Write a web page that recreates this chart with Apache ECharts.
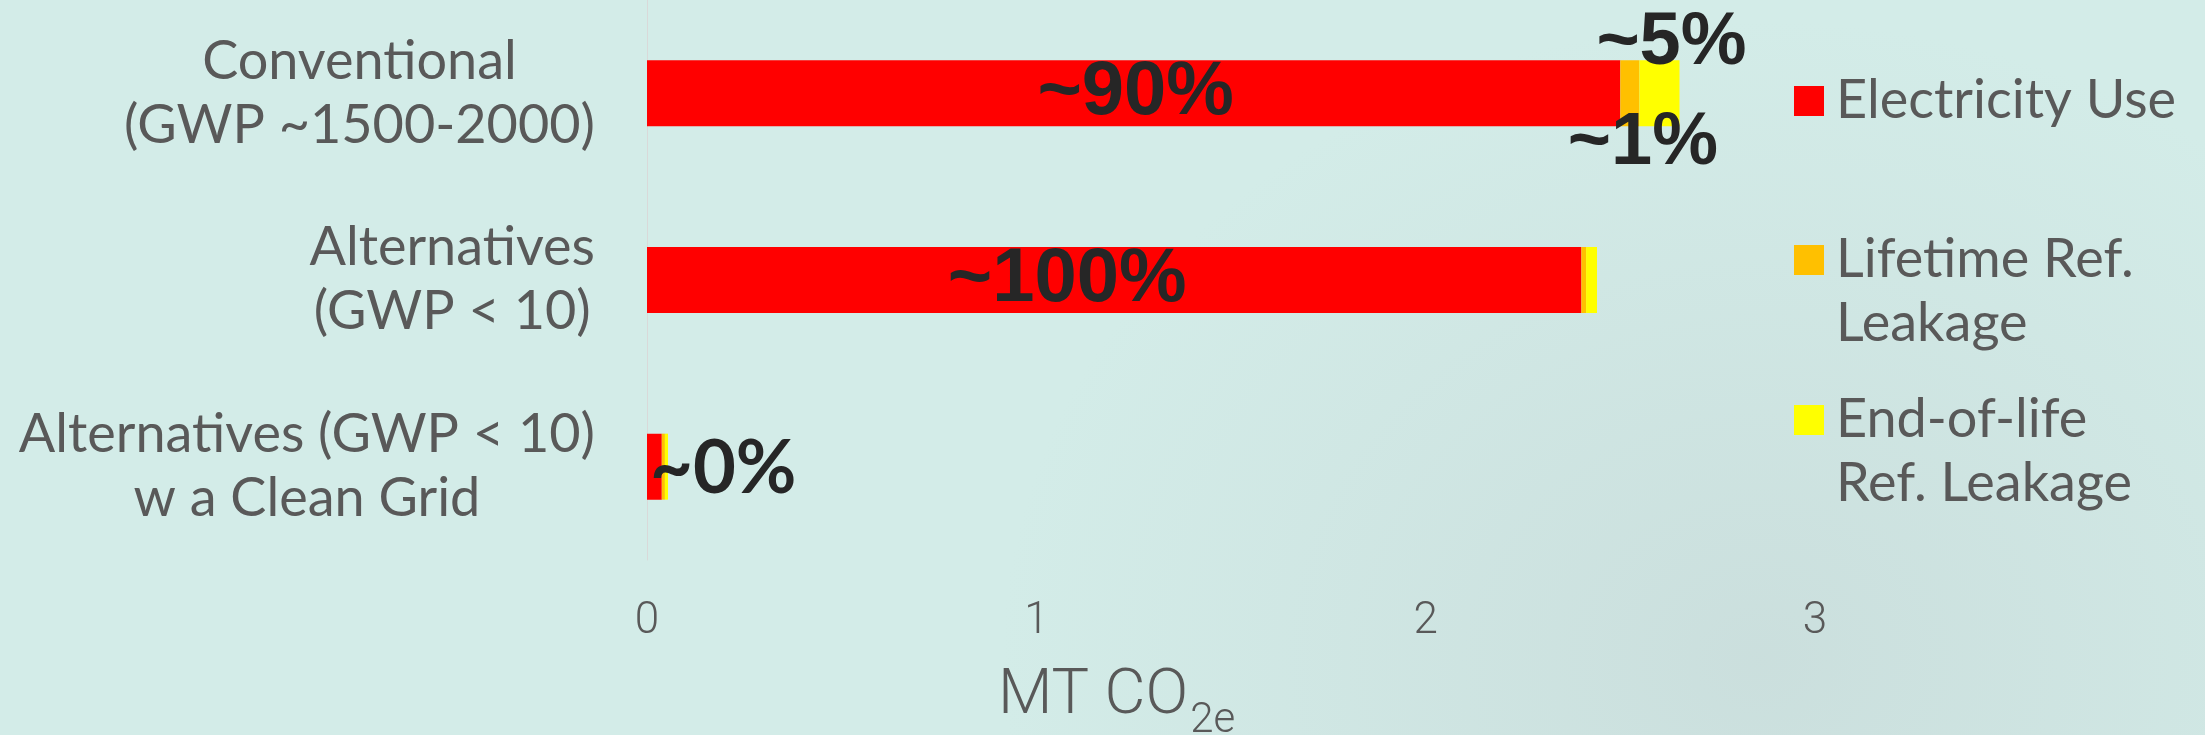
<!DOCTYPE html>
<html>
<head>
<meta charset="utf-8">
<script src="https://cdn.jsdelivr.net/npm/echarts@6/dist/echarts.min.js"></script>
<style>
  html, body {
    margin: 0;
    padding: 0;
    width: 2205px;
    height: 735px;
    overflow: hidden;
    background-color: #d3ece8;
    background-image: radial-gradient(ellipse 760px 640px at 1760px 660px, rgba(196, 212, 212, 0.55), rgba(196, 212, 212, 0) 100%);
  }
  #chart { width: 2205px; height: 735px; }
</style>
</head>
<body>
<div id="chart"></div>
<script>
// Refrigeration system lifetime emissions, MT CO2e, by source
const categories = [
  'Conventional\n(GWP ~1500-2000)',
  'Alternatives\n(GWP < 10)',
  'Alternatives (GWP < 10)\nw a Clean Grid'
];
const seriesNames = ['Electricity Use', 'Lifetime Ref.\nLeakage', 'End-of-life\nRef. Leakage'];
const electricityUse = [2.50, 2.40, 0.038];
const lifetimeLeakage = [0.049, 0.012, 0.008];
const endOfLifeLeakage = [0.103, 0.028, 0.008];
const electricityShare = ['~90%', '~100%', '~0%'];
const lifetimeShare = ['~1%', '', ''];
const endOfLifeShare = ['~5%', '', ''];
const xTicks = [0, 1, 2, 3];

const seriesColors = ['#ff0000', '#ffc000', '#ffff00'];
const textGray = '#595959';

const baseLabel = {
  show: true,
  fontFamily: 'Liberation Sans, Arial, sans-serif',
  fontWeight: 'bold',
  fontSize: 76,
  color: '#262626',
  textBorderWidth: 0
};

// per-bar label placement for the share annotations
const labelPlacement = [
  [{ position: 'inside', offset: [2, 0] }, { position: 'inside', offset: [-47, 0] },
   { position: 'insideLeft', distance: 3, offset: [0, 2], fontFamily: 'Lato, sans-serif', fontSize: 74 }],
  [{ position: 'inside', offset: [13, 50], fontSize: 74 }, {}, {}],
  [{ position: 'inside', offset: [12, -50], fontSize: 74 }, {}, {}]
];

function buildData(values, shares, placement) {
  return values.map((v, i) => ({
    value: v,
    label: shares[i]
      ? Object.assign({}, baseLabel, { formatter: shares[i] }, placement[i])
      : { show: false }
  }));
}

const valueSets = [electricityUse, lifetimeLeakage, endOfLifeLeakage];
const shareSets = [electricityShare, lifetimeShare, endOfLifeShare];

const series = seriesNames.map((name, k) => ({
  name: name,
  type: 'bar',
  stack: 'total',
  barWidth: 66,
  itemStyle: { color: seriesColors[k] },
  data: buildData(valueSets[k], shareSets[k], labelPlacement[k])
}));

// one legend per entry; two-line entries get a blank leading line so the
// swatch sits level with the first line of text
const legendTops = [69, 164, 324];
const legends = seriesNames.map((name, k) => ({
  orient: 'vertical',
  left: 1794,
  top: legendTops[k],
  padding: 0,
  icon: 'rect',
  itemWidth: 30,
  itemHeight: 30,
  selectedMode: false,
  formatter: n => (n.indexOf('\n') >= 0 ? '\n' : '') + n,
  textStyle: { fontFamily: 'Lato, sans-serif', fontSize: 54, lineHeight: 64, color: textGray, padding: [0, 0, 0, 7] },
  data: [name]
}));

const chart = echarts.init(document.getElementById('chart'), null, { renderer: 'canvas' });
chart.setOption({
  backgroundColor: 'transparent',
  animation: false,
  title: {
    left: 998,
    top: 666,
    padding: 0,
    text: '{a|MT CO}{b|2e}',
    textStyle: {
      rich: {
        a: { fontFamily: 'Roboto, sans-serif', fontWeight: 300, fontSize: 63, lineHeight: 63, color: textGray, verticalAlign: 'top' },
        b: { fontFamily: 'Roboto, sans-serif', fontWeight: 300, fontSize: 42, lineHeight: 42, color: textGray, verticalAlign: 'top', padding: [34, 0, 0, 2] }
      }
    }
  },
  legend: legends,
  grid: { left: 647, right: 390, top: 0, height: 560, outerBoundsMode: 'none' },
  xAxis: {
    type: 'value',
    min: xTicks[0],
    max: xTicks[xTicks.length - 1],
    interval: 1,
    axisLine: { show: false },
    axisTick: { show: false },
    splitLine: { show: false },
    axisLabel: {
      margin: 40,
      fontFamily: 'Roboto, sans-serif',
      fontWeight: 300,
      fontSize: 44,
      color: textGray
    }
  },
  yAxis: {
    type: 'category',
    inverse: true,
    data: categories,
    axisLine: { show: true, lineStyle: { color: '#d9d9d9', width: 1 } },
    axisTick: { show: false },
    axisLabel: {
      margin: 52,
      formatter: v => v.split('\n').map(s => '{c|' + s + '}').join('\n'),
      rich: {
        c: { align: 'center', fontFamily: 'Lato, sans-serif', fontSize: 54, lineHeight: 64, color: textGray }
      }
    }
  },
  series: series
});
</script>
</body>
</html>
